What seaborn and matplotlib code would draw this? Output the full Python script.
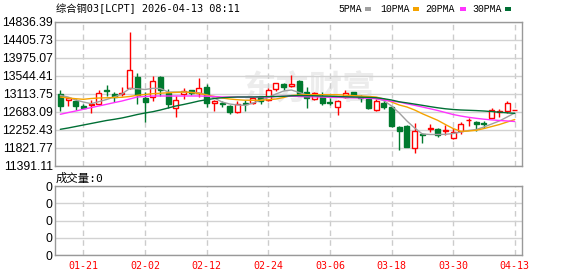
import matplotlib
matplotlib.use("Agg")
import matplotlib.pyplot as plt
from matplotlib.patches import Rectangle
import numpy as np
import pandas as pd
import seaborn as sns

# ---------------- data ----------------
title = "综合铜03[LCPT] 2026-04-13 08:11"
volume_title = "成交量:0"
date_ticks = [3, 11, 19, 27, 35, 43, 51, 59]
date_labels = ["01-21", "02-02", "02-12", "02-24", "03-06", "03-18", "03-30", "04-13"]
price_ticks = [14836.39, 14405.73, 13975.07, 13544.41, 13113.75,
               12683.09, 12252.43, 11821.77, 11391.11]
volume_ticks = [0, 1, 2, 3, 4]
volume_labels = ["0", "0", "0", "0", "0"]
ma_names = ["5PMA", "10PMA", "20PMA", "30PMA"]
ma_colors = ["#a0a0a0", "#f5a300", "#ff33ff", "#006f35"]

opens = [13114, 12963, 12939, 12826, 12850, 12867, 13202, 13106, 13114, 13250,
         13520, 13025, 13042, 13528, 13130, 12772, 13114, 13202, 13130, 13289,
         12891, 12906, 12826, 12675, 12891, 12891, 13049, 12970, 13233, 13353,
         13305, 13432, 13162, 12986, 13049, 12930, 12795, 13049, 13162, 13049,
         12986, 12731, 12906, 12810, 12324, 12347, 11814, 12149, 12276, 12276,
         12228, 12069, 12228, 12484, 12451, 12411, 12547, 12691, 12714, 12725]
highs = [13202, 13049, 12994, 12882, 12970, 13202, 13322, 13162, 13281, 14590,
         13623, 13169, 13544, 13544, 13233, 13066, 13250, 13202, 13489, 13346,
         12970, 12954, 12850, 12954, 12970, 13049, 13066, 13250, 13385, 13370,
         13568, 13449, 13289, 13169, 13169, 13011, 12970, 13209, 13162, 13097,
         12986, 12986, 12970, 12834, 12355, 12372, 12427, 12173, 12396, 12292,
         12372, 12292, 12451, 12548, 12475, 12475, 12771, 12755, 12954, 12735]
lows = [12707, 12834, 12731, 12755, 12652, 12850, 13073, 12930, 13073, 13233,
        12882, 12451, 12954, 13073, 12786, 12556, 12986, 13082, 13034, 12795,
        12714, 12810, 12628, 12652, 12707, 12867, 12867, 12954, 13193, 13209,
        13289, 13097, 12772, 12970, 12850, 12850, 12619, 13011, 13034, 12930,
        12755, 12707, 12747, 12331, 11774, 11837, 11709, 11934, 12212, 12093,
        12133, 12045, 12149, 12355, 12236, 12307, 12531, 12571, 12652, 12725]
closes = [12834, 13011, 12834, 12779, 12882, 13145, 13185, 13042, 13138, 13688,
          13090, 12930, 13425, 13202, 12882, 12970, 13193, 13130, 13250, 12891,
          12939, 12867, 12675, 12867, 12867, 13011, 12954, 13209, 13370, 13289,
          13346, 13114, 13025, 13130, 12891, 12891, 12954, 13130, 13082, 13018,
          12772, 12946, 12810, 12355, 12236, 11853, 12236, 12125, 12292, 12133,
          12252, 12205, 12396, 12500, 12388, 12396, 12731, 12714, 12891, 12735]

ma5 = [13080, 13042, 12970, 12922, 12882, 12930, 12982, 13042, 13114, 13245,
       13240, 13221, 13249, 13245, 13161, 13161, 13161, 13150, 13145, 13090,
       13018, 12922, 12874, 12851, 12843, 12898, 12963, 13030, 13114, 13185,
       13209, 13150, 13090, 13078, 13054, 13030, 13042, 13054, 13059, 13054,
       13030, 13006, 12958, 12827, 12660, 12468, 12301, 12157, 12145, 12145,
       12149, 12168, 12204, 12240, 12264, 12324, 12396, 12468, 12563, 12659]
ma10 = [13042, 13018, 13001, 12987, 13006, 13018, 13023, 13030, 13035, 13054,
        13083, 13102, 13121, 13133, 13143, 13152, 13162, 13150, 13126, 13090,
        13054, 13018, 12994, 12977, 12965, 12963, 12963, 12977, 12994, 13030,
        13078, 13090, 13097, 13097, 13097, 13097, 13097, 13085, 13075, 13066,
        13054, 13042, 12994, 12922, 12851, 12803, 12731, 12642, 12563, 12484,
        12383, 12287, 12221, 12228, 12245, 12287, 12335, 12383, 12443, 12503]
ma20 = [12628, 12669, 12707, 12748, 12788, 12827, 12867, 12908, 12946, 12994,
        13042, 13054, 13066, 13066, 13066, 13066, 13066, 13066, 13066, 13061,
        13054, 13042, 13042, 13042, 13042, 13042, 13042, 13042, 13054, 13059,
        13059, 13054, 13049, 13044, 13042, 13037, 13032, 13028, 13023, 13018,
        13011, 13001, 12970, 12939, 12922, 12879, 12843, 12803, 12762, 12719,
        12671, 12623, 12587, 12556, 12532, 12511, 12494, 12480, 12468, 12456]
ma30 = [12269, 12300, 12336, 12372, 12408, 12444, 12480, 12508, 12540, 12580,
        12623, 12659, 12690, 12731, 12779, 12827, 12863, 12903, 12946, 12977,
        13006, 13025, 13035, 13042, 13042, 13042, 13047, 13052, 13054, 13059,
        13071, 13075, 13073, 13071, 13066, 13061, 13054, 13047, 13042, 13037,
        13032, 13025, 13001, 12970, 12927, 12901, 12872, 12843, 12812, 12784,
        12760, 12743, 12731, 12724, 12717, 12707, 12693, 12678, 12664, 12650]

# ---------------- style ----------------
sns.set_style("white")
plt.rcParams["font.family"] = ["Liberation Sans", "Noto Sans CJK SC", "DejaVu Sans"]
MONO = ["DejaVu Sans Mono", "Noto Sans CJK SC"]
RED = "#ff0000"
GREEN = "#007a2e"
SPINE = "#999999"
HGRID = "#d2d2d2"
VGRID = "#cccccc"

W, H = 578, 276
fig = plt.figure(figsize=(W / 100, H / 100), dpi=100)
fig.patch.set_facecolor("white")

ax = fig.add_axes([55 / W, 1 - 166 / H, 467 / W, 144 / H])
axv = fig.add_axes([55 / W, 1 - 255 / H, 467 / W, 68.7 / H])

n = len(opens)
idx = np.arange(n)
xlim = (-0.69, n - 1 + 0.94)

# ---------------- candles ----------------
body_w = 0.65
for i in idx:
    o, h, l, c = opens[i], highs[i], lows[i], closes[i]
    up = c >= o
    col = RED if up else GREEN
    ax.vlines(i, l, h, color=col, lw=1, zorder=2)
    bot, top = min(o, c), max(o, c)
    ax.add_patch(Rectangle((i - body_w / 2, bot), body_w, top - bot,
                           facecolor="white" if up else GREEN,
                           edgecolor=col, lw=1, zorder=3))

# ---------------- moving averages (seaborn) ----------------
ma_df = pd.DataFrame({
    "i": np.tile(idx, 4),
    "value": np.concatenate([ma5, ma10, ma20, ma30]),
    "ma": np.repeat(ma_names, n),
})
sns.lineplot(data=ma_df, x="i", y="value", hue="ma", hue_order=ma_names,
             palette=dict(zip(ma_names, ma_colors)), linewidth=1,
             estimator=None, legend=False, ax=ax, zorder=4)
ax.set_xlabel("")
ax.set_ylabel("")

# watermark
ax.text(0.544, 0.528, "东方财富", transform=ax.transAxes, fontsize=24,
        color="#ececec", fontweight="bold", family="Noto Sans CJK SC",
        ha="center", va="center", zorder=0.5)

# ---------------- price axes ----------------
ax.set_xlim(*xlim)
ax.set_ylim(price_ticks[-1], price_ticks[0])
ax.set_yticks(price_ticks)
ax.set_yticklabels([f"{v:.2f}" for v in price_ticks])
ax.set_xticks(date_ticks)
ax.set_xticklabels([])
ax.tick_params(axis="y", length=0, pad=1.7, labelsize=8.8, labelcolor="black")
ax.tick_params(axis="x", length=0)
ax.yaxis.grid(True, color=HGRID, lw=1, linestyle="-")
ax.xaxis.grid(True, color=VGRID, lw=1, linestyle=(0, (4, 3)))
ax.set_axisbelow(True)
for s in ax.spines.values():
    s.set_color(SPINE)
    s.set_linewidth(1)

# ---------------- volume axes ----------------
axv.set_xlim(*xlim)
axv.set_ylim(volume_ticks[0], volume_ticks[-1])
axv.set_yticks(volume_ticks)
axv.set_yticklabels(volume_labels)
axv.set_xticks(date_ticks)
axv.set_xticklabels(date_labels, family=MONO, fontsize=7.2, color=RED)
axv.tick_params(axis="y", length=0, pad=1.7, labelsize=8.8, labelcolor="black")
axv.tick_params(axis="x", length=0, pad=4)
axv.yaxis.grid(True, color=HGRID, lw=1, linestyle="-")
axv.xaxis.grid(True, color=VGRID, lw=1, linestyle=(0, (4, 3)))
axv.set_axisbelow(True)
for s in axv.spines.values():
    s.set_color(SPINE)
    s.set_linewidth(1)

# ---------------- texts ----------------
fig.text(56 / W, 1 - 8.5 / H, title, family=MONO, fontsize=7.4,
         ha="left", va="center", color="black")
fig.text(56 / W, 1 - 178 / H, volume_title, family=MONO, fontsize=8.2,
         ha="left", va="center", color="black")

legend_text_x = [338, 380, 425, 472]
legend_box_x = [365, 413, 460, 505]
for name, col, tx, bx in zip(ma_names, ma_colors, legend_text_x, legend_box_x):
    fig.text(tx / W, 1 - 9 / H, name, family=["Liberation Mono"], fontsize=7.1,
             ha="left", va="center", color="black")
    fig.patches.append(Rectangle((bx / W, 1 - 10.5 / H), 6 / W, 3 / H,
                                 transform=fig.transFigure, facecolor=col,
                                 edgecolor="none"))

fig.savefig("out.png", dpi=100, facecolor="white")
